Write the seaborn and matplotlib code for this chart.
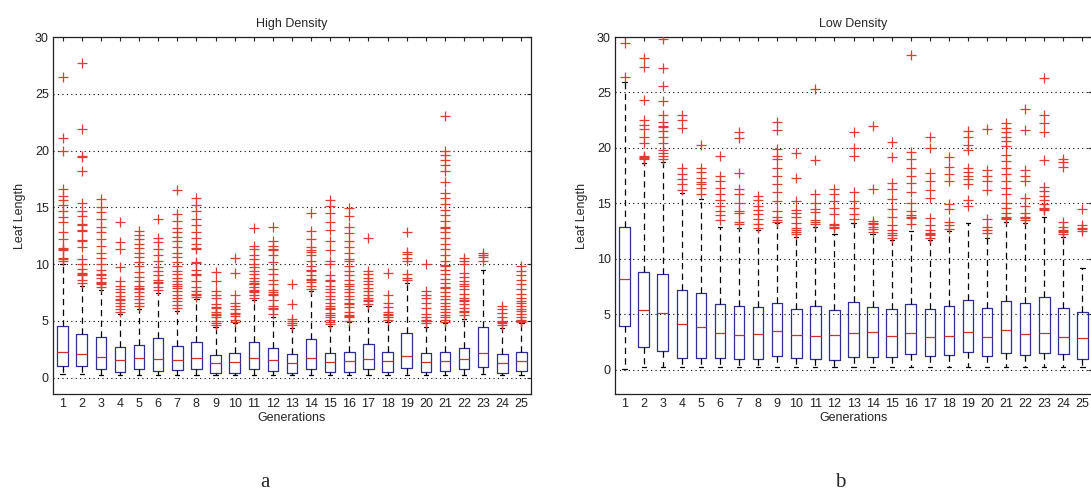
import matplotlib
matplotlib.use('Agg')
import matplotlib.pyplot as plt
import numpy as np
import pandas as pd
import seaborn as sns

gens = list(range(1, 26))

# High density: whisker ends, quartiles and medians
hd_lo = [0.30, 0.30, 0.25, 0.20, 0.25, 0.25, 0.25, 0.25, 0.20, 0.20, 0.25, 0.25, 0.20,
         0.25, 0.20, 0.20, 0.25, 0.20, 0.25, 0.20, 0.25, 0.25, 0.30, 0.20, 0.25]
hd_q1 = [1.02, 1.02, 0.73, 0.53, 0.73, 0.61, 0.67, 0.73, 0.44, 0.44, 0.73, 0.61, 0.44,
         0.73, 0.53, 0.53, 0.73, 0.53, 0.82, 0.53, 0.61, 0.73, 0.90, 0.44, 0.61]
hd_med = [2.28, 2.08, 1.84, 1.55, 1.75, 1.60, 1.55, 1.75, 1.26, 1.37, 1.75, 1.55, 1.26,
          1.75, 1.40, 1.49, 1.64, 1.46, 1.90, 1.40, 1.49, 1.60, 2.13, 1.26, 1.49]
hd_q3 = [4.56, 3.80, 3.54, 2.66, 2.87, 3.45, 2.78, 3.16, 1.99, 2.19, 3.16, 2.57, 2.08,
         3.42, 2.13, 2.28, 2.95, 2.28, 3.90, 2.19, 2.28, 2.57, 4.47, 2.08, 2.28]
hd_hi = [10.0, 8.1, 7.75, 5.64, 6.08, 7.45, 5.9, 6.9, 4.47, 4.77, 6.8, 5.35, 4.4,
         7.63, 4.5, 4.9, 6.3, 4.9, 8.33, 4.47, 4.77, 5.2, 9.5, 4.33, 4.77]
hd_out = [
    [10.3, 10.4, 10.5, 11.2, 11.3, 11.4, 12.2, 12.8, 13.7, 14.1, 14.7, 15.2, 15.6, 16.0, 16.6, 20.0, 21.1, 26.5],
    [8.3, 8.6, 9.0, 9.1, 9.2, 9.6, 10.0, 10.4, 11.5, 12.0, 12.1, 12.9, 13.0, 13.4, 13.5, 14.2, 14.7, 15.4, 18.2, 19.4, 19.5, 21.9, 27.7],
    [8.0, 8.2, 8.3, 8.4, 8.8, 9.0, 9.1, 9.5, 10.0, 10.5, 11.0, 11.6, 12.2, 12.8, 13.3, 14.0, 14.6, 15.0, 15.7],
    [5.8, 6.0, 6.3, 6.6, 6.8, 6.9, 7.2, 7.5, 7.8, 8.1, 8.5, 9.7, 11.3, 11.9, 13.7],
    [6.3, 6.6, 6.9, 7.2, 7.5, 7.8, 7.9, 8.1, 8.5, 8.9, 9.3, 9.8, 10.2, 10.6, 11.0, 11.4, 11.8, 12.2, 12.6, 12.9],
    [7.7, 8.0, 8.3, 8.4, 8.6, 9.0, 9.4, 9.7, 10.3, 10.8, 11.3, 11.9, 12.3, 14.0],
    [6.1, 6.4, 6.7, 7.0, 7.3, 7.6, 7.9, 8.1, 8.2, 8.5, 8.8, 9.1, 9.4, 9.8, 10.2, 10.6, 11.0, 11.5, 12.0, 12.4, 12.8, 13.2, 13.8, 14.4, 16.5],
    [7.1, 7.3, 7.4, 7.6, 8.0, 8.5, 9.0, 9.1, 9.5, 10.1, 10.2, 11.3, 11.4, 11.8, 12.3, 12.8, 13.4, 14.0, 14.7, 15.2, 15.8],
    [4.6, 4.8, 5.0, 5.3, 5.5, 5.6, 5.8, 6.1, 6.2, 6.5, 7.0, 7.3, 7.6, 8.5, 9.3],
    [4.9, 5.1, 5.4, 5.6, 5.7, 6.0, 6.3, 6.6, 7.3, 9.2, 10.5],
    [7.0, 7.3, 7.5, 7.6, 7.7, 8.0, 8.2, 8.3, 8.5, 8.8, 9.1, 9.4, 9.7, 10.0, 10.4, 10.8, 11.3, 11.6, 13.2],
    [5.6, 6.0, 6.1, 6.3, 6.8, 7.3, 7.4, 7.5, 7.7, 8.2, 8.6, 9.1, 9.6, 10.2, 10.8, 11.2, 11.3, 11.6, 12.0, 13.3],
    [4.6, 4.8, 5.0, 5.2, 6.5, 8.2],
    [7.8, 8.1, 8.4, 8.6, 8.7, 9.0, 9.4, 9.5, 9.8, 10.3, 10.8, 11.1, 11.2, 11.5, 12.2, 12.9, 14.5],
    [4.7, 4.9, 5.1, 5.3, 5.5, 5.7, 6.0, 6.1, 6.3, 6.6, 6.9, 7.2, 7.5, 7.8, 8.1, 8.5, 8.6, 9.0, 10.0, 10.3, 11.2, 12.0, 13.0, 13.7, 14.5, 15.1, 15.6],
    [5.0, 5.3, 5.4, 5.5, 5.8, 6.2, 6.5, 6.6, 6.9, 7.2, 7.5, 7.8, 8.1, 8.2, 8.6, 9.0, 9.4, 9.8, 10.3, 10.4, 11.0, 11.5, 12.0, 12.7, 13.3, 14.2, 14.9],
    [6.5, 6.7, 6.8, 7.0, 7.3, 7.6, 7.9, 8.2, 8.5, 8.8, 9.1, 9.4, 12.3],
    [5.1, 5.3, 5.5, 5.6, 5.8, 6.2, 6.6, 7.3, 9.2],
    [8.6, 8.8, 9.1, 10.3, 10.5, 10.9, 11.1, 12.8],
    [4.8, 5.0, 5.1, 5.3, 5.6, 6.1, 6.6, 7.0, 7.3, 7.6, 10.0],
    [4.9, 5.1, 5.3, 5.5, 5.8, 6.0, 6.3, 6.6, 6.9, 7.2, 7.5, 7.9, 8.0, 8.3, 8.7, 9.1, 9.5, 9.8, 9.9, 10.3, 10.8,
     11.3, 11.8, 12.3, 12.8, 13.2, 13.3, 13.8, 14.3, 14.8, 15.3, 15.8, 16.3, 17.2, 18.2, 18.7, 19.2, 19.6, 20.0, 23.0],
    [5.5, 5.8, 5.9, 6.1, 6.5, 6.7, 6.8, 7.0, 7.4, 7.8, 8.1, 8.2, 8.5, 8.9, 9.2, 10.0, 10.3, 10.5],
    [10.3, 10.6, 10.8, 11.0],
    [4.6, 4.8, 4.9, 5.0, 5.3, 5.7, 6.0, 6.3],
    [4.9, 5.0, 5.1, 5.3, 5.6, 5.9, 6.0, 6.3, 6.6, 6.7, 7.0, 7.4, 7.8, 8.2, 8.6, 9.0, 9.4, 9.8],
]

# Low density: panel b
ld_lo = [0.05, 0.20, 0.20, 0.20, 0.20, 0.20, 0.20, 0.25, 0.20, 0.20, 0.20, 0.20, 0.20,
         0.20, 0.20, 0.20, 0.20, 0.20, 0.20, 0.20, 0.20, 0.20, 0.20, 0.20, 0.25]
ld_q1 = [3.96, 2.00, 1.70, 1.09, 1.09, 1.09, 1.00, 1.00, 1.21, 1.09, 1.00, 0.91, 1.15,
         1.15, 1.15, 1.39, 1.21, 1.30, 1.60, 1.21, 1.51, 1.30, 1.51, 1.39, 1.00]
ld_med = [8.19, 5.38, 5.08, 4.10, 3.87, 3.32, 3.11, 3.20, 3.47, 3.11, 3.02, 3.11, 3.32,
          3.41, 3.02, 3.32, 2.90, 3.02, 3.41, 2.90, 3.53, 3.20, 3.32, 2.90, 2.81]
ld_q3 = [12.84, 8.76, 8.60, 7.19, 6.89, 5.89, 5.77, 5.68, 5.98, 5.47, 5.77, 5.38, 6.07,
         5.68, 5.47, 5.89, 5.47, 5.77, 6.28, 5.59, 6.19, 5.98, 6.59, 5.59, 5.17]
ld_hi = [25.95, 18.6, 18.7, 15.9, 15.35, 12.9, 12.8, 12.6, 13.2, 12.0, 12.9, 12.2, 13.2,
         12.2, 11.7, 12.5, 11.7, 12.5, 13.2, 11.9, 13.3, 13.2, 13.8, 12.0, 9.2]
ld_out = [
    [26.4, 29.5],
    [19.0, 19.1, 19.2, 19.3, 20.4, 21.0, 21.7, 22.1, 22.5, 24.3, 27.3, 28.1],
    [19.0, 19.3, 19.5, 19.8, 20.4, 21.0, 21.5, 21.9, 22.0, 22.3, 23.0, 24.2, 25.6, 27.2, 29.8],
    [16.2, 16.7, 17.2, 17.6, 18.2, 21.8, 22.5, 23.0],
    [15.8, 16.4, 16.7, 16.9, 17.3, 17.8, 18.2, 20.3],
    [13.5, 13.9, 14.3, 14.8, 15.3, 15.8, 16.4, 17.0, 17.5, 19.3],
    [13.1, 13.3, 14.1, 14.3, 15.0, 15.8, 16.3, 17.7, 20.9, 21.4],
    [12.8, 13.1, 13.6, 14.0, 14.4, 14.8, 15.3, 15.7],
    [13.3, 13.5, 13.8, 14.3, 15.2, 16.0, 16.7, 17.5, 18.2, 19.0, 19.3, 19.9, 21.6, 22.3],
    [12.2, 12.4, 12.6, 12.8, 13.2, 13.8, 14.1, 14.4, 15.2, 17.3, 19.5],
    [13.1, 13.3, 13.5, 14.2, 14.5, 15.0, 15.8, 18.9, 25.3],
    [12.8, 12.9, 13.0, 13.1, 14.0, 14.6, 15.2, 15.8, 16.3],
    [13.6, 14.0, 14.6, 15.2, 16.0, 19.3, 20.0, 21.4],
    [12.4, 12.7, 12.9, 13.1, 13.2, 13.4, 16.3, 22.0],
    [11.9, 12.1, 12.3, 12.6, 13.0, 13.8, 14.5, 15.4, 16.3, 16.8, 19.2, 20.5],
    [13.1, 13.7, 13.8, 13.9, 14.3, 15.0, 16.0, 16.8, 17.5, 18.2, 19.0, 19.6, 28.4],
    [11.9, 12.1, 12.2, 12.3, 12.6, 13.0, 13.7, 15.5, 16.2, 17.0, 17.7, 20.0, 21.0],
    [12.7, 13.0, 13.3, 14.5, 14.9, 17.0, 17.6, 18.3, 19.2],
    [14.8, 15.3, 16.7, 17.2, 17.5, 17.8, 18.2, 19.8, 20.3, 21.0, 21.5],
    [12.3, 12.6, 12.9, 13.6, 16.2, 17.0, 17.5, 18.0, 21.7],
    [13.6, 13.7, 13.8, 14.1, 14.6, 15.0, 15.8, 16.4, 17.0, 17.6, 18.2, 18.8, 19.4, 20.2, 20.6, 21.0, 21.4, 21.8, 22.2],
    [13.5, 13.7, 13.8, 14.1, 14.8, 15.5, 17.0, 17.5, 18.0, 21.6, 23.5],
    [14.4, 14.5, 14.6, 14.9, 15.3, 15.7, 16.1, 16.5, 18.9, 21.4, 22.2, 23.0, 26.3],
    [12.2, 12.4, 12.5, 12.6, 12.9, 13.3, 18.3, 18.7, 19.0],
    [12.5, 12.7, 12.8, 13.0, 14.5],
]

BOX_BLUE = '#2d2d9a'
OUT_RED = '#e23b32'
MED_RED = '#d0302c'


def box_frame(lo, q1, med, q3, hi):
    # five values per generation -> seaborn reproduces exactly these quartiles
    rows = []
    for g, a, b, c, d, e in zip(gens, lo, q1, med, q3, hi):
        for v in (a, b, c, d, e):
            rows.append((g, v))
    return pd.DataFrame(rows, columns=['gen', 'val'])


def out_frame(outs):
    rows = [(g, v) for g, vals in zip(gens, outs) for v in vals]
    return pd.DataFrame(rows, columns=['gen', 'val'])


def draw(ax, lo, q1, med, q3, hi, outs, title, ylim):
    sns.boxplot(data=box_frame(lo, q1, med, q3, hi), x='gen', y='val', ax=ax,
                native_scale=True, whis=(0, 100), width=0.55, fill=False,
                showfliers=False, linewidth=0.9, capwidths=0.22,
                boxprops=dict(color=BOX_BLUE),
                medianprops=dict(color=MED_RED),
                whiskerprops=dict(color='black', linestyle=(0, (5, 3.5))),
                capprops=dict(color='black'))
    sns.scatterplot(data=out_frame(outs), x='gen', y='val', ax=ax, marker='+',
                    color=OUT_RED, s=46, linewidth=0.9, legend=False, zorder=3)
    ax.set_xlim(0.5, 25.5)
    ax.set_ylim(*ylim)
    ax.set_xticks(gens)
    ax.set_xticklabels([str(g) for g in gens])
    ax.set_yticks([0, 5, 10, 15, 20, 25, 30])
    ax.yaxis.grid(True, linestyle=(0, (1, 3)), color='black', linewidth=0.8)
    ax.xaxis.grid(False)
    ax.set_axisbelow(True)
    ax.tick_params(direction='in', top=True, right=True, length=3,
                   labelsize=9, pad=3, colors='#222222')
    for sp in ax.spines.values():
        sp.set_visible(True)
        sp.set_color('#222222')
        sp.set_linewidth(0.9)
    ax.set_title(title, fontsize=9, pad=7)
    ax.set_xlabel('Generations', fontsize=9, labelpad=1)
    ax.set_ylabel('Leaf Length', fontsize=9, labelpad=6)


sns.set_style('white')
plt.rcParams['font.family'] = ['Liberation Sans', 'DejaVu Sans']

fig = plt.figure(figsize=(10.91, 4.94), dpi=100)
ax1 = fig.add_axes([53 / 1091, 1 - 394 / 494, 478 / 1091, 357 / 494])
ax2 = fig.add_axes([615 / 1091, 1 - 394 / 494, 477 / 1091, 357 / 494])

draw(ax1, hd_lo, hd_q1, hd_med, hd_q3, hd_hi, hd_out, 'High Density', (-1.45, 30))
draw(ax2, ld_lo, ld_q1, ld_med, ld_q3, ld_hi, ld_out, 'Low Density', (-2.2, 30))

fig.text(265 / 1091, 1 - 482 / 494, 'a', ha='center', va='center',
         fontsize=15, family=['Liberation Serif', 'DejaVu Serif'])
fig.text(840 / 1091, 1 - 482 / 494, 'b', ha='center', va='center',
         fontsize=15, family=['Liberation Serif', 'DejaVu Serif'])

fig.savefig('out.png', dpi=100)
